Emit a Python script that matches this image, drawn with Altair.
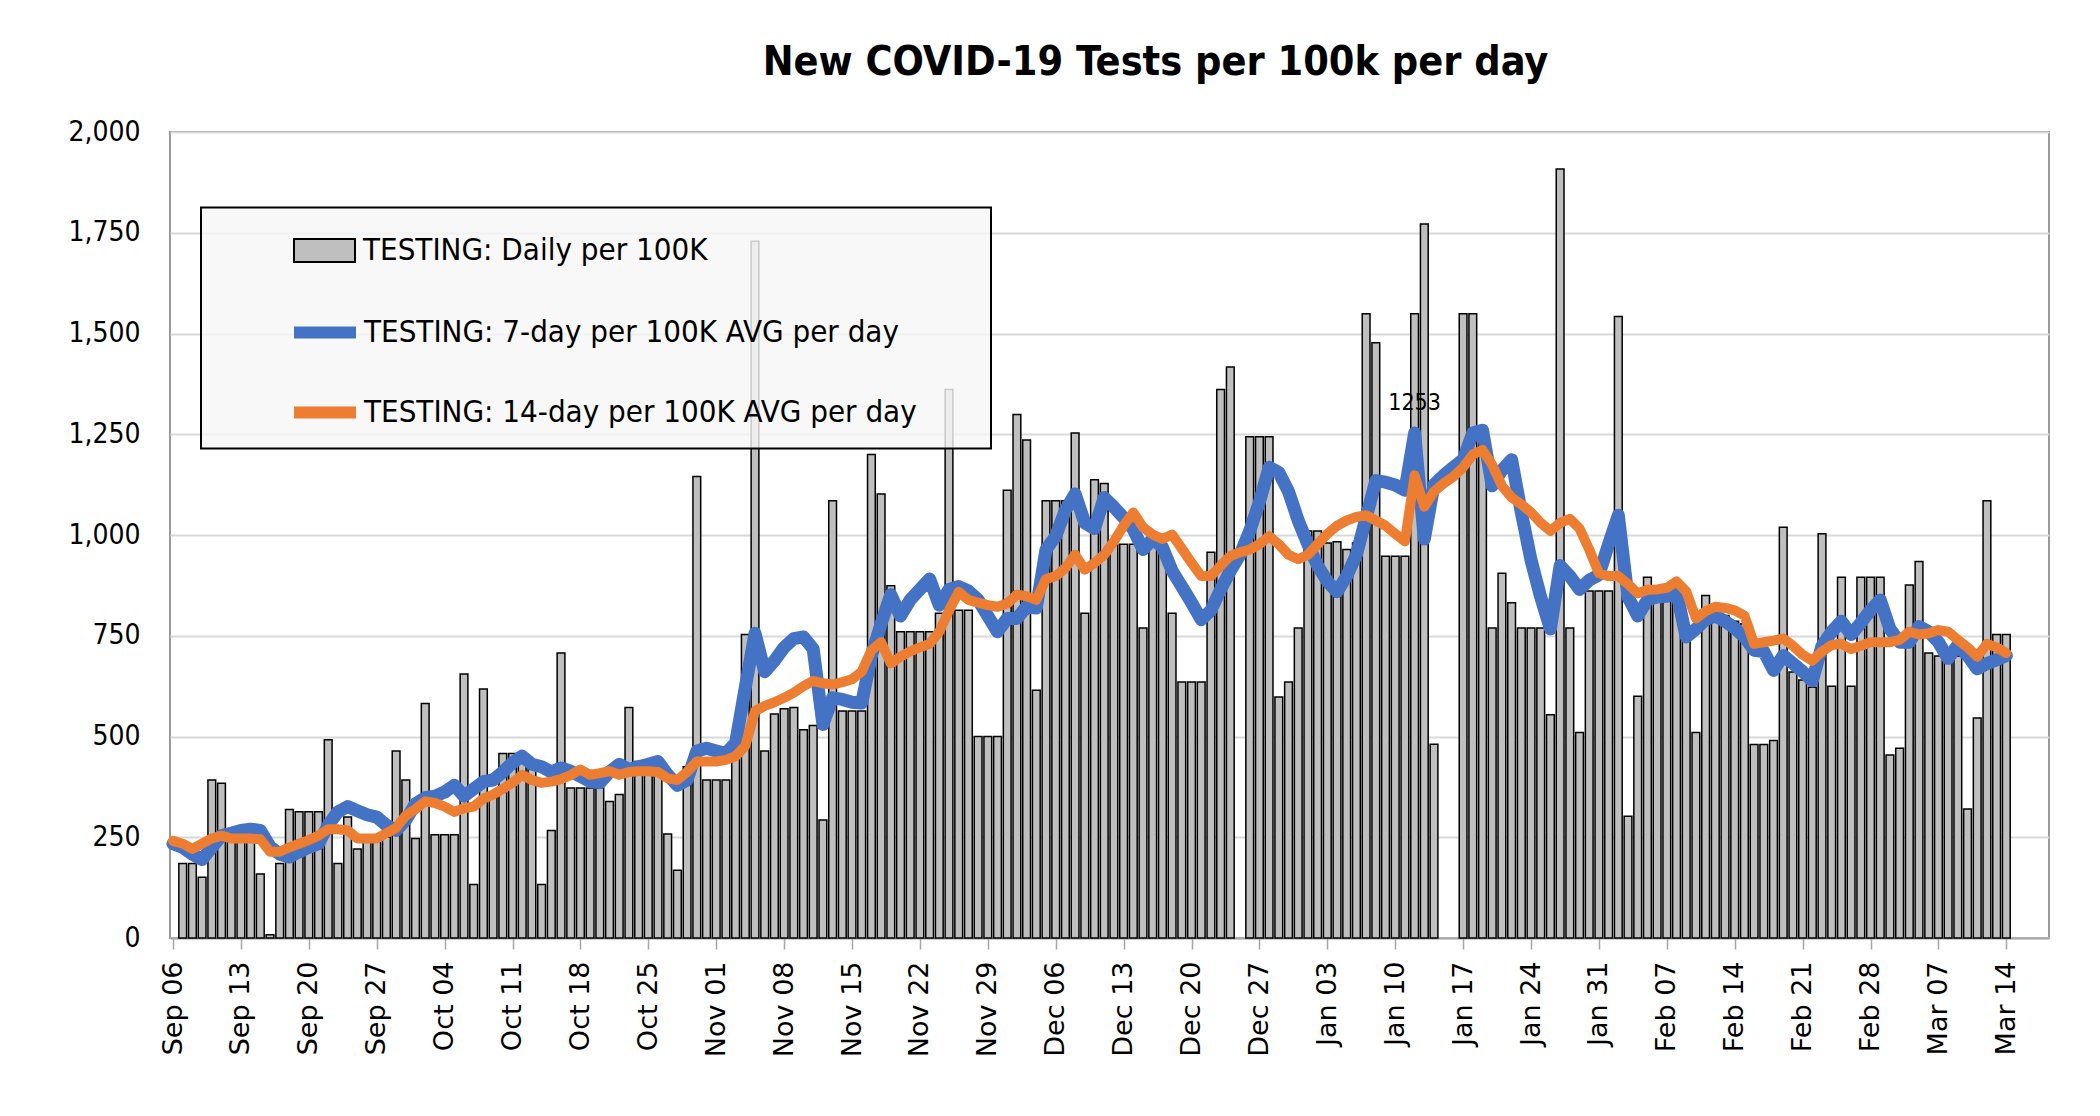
import altair as alt
import pandas as pd

# ---------------- data ----------------
tick_labels = ["Sep 06", "Sep 13", "Sep 20", "Sep 27", "Oct 04", "Oct 11", "Oct 18",
               "Oct 25", "Nov 01", "Nov 08", "Nov 15", "Nov 22", "Nov 29", "Dec 06",
               "Dec 13", "Dec 20", "Dec 27", "Jan 03", "Jan 10", "Jan 17", "Jan 24",
               "Jan 31", "Feb 07", "Feb 14", "Feb 21", "Feb 28", "Mar 07", "Mar 14"]

# daily tests per 100K, one value per day from Sep 06 (index 0) to Mar 14 (index 189)
daily = [None, 185, 185, 151, 392, 384, 245, 245, 245, 159,
         8, 185, 319, 313, 313, 313, 492, 185, 300, 221,
         240, 240, 250, 464, 392, 247, 582, 256, 256, 256,
         655, 133, 618, 350, 458, 458, 440, 420, 133, 267,
         707, 372, 372, 372, 372, 339, 356, 572, 438, 430,
         430, 258, 168, 425, 1145, 392, 392, 392, 464, 753,
         1729, 464, 556, 569, 572, 517, 527, 293, 1085, 563,
         563, 563, 1200, 1102, 874, 760, 760, 760, 760, 806,
         1361, 813, 813, 500, 500, 500, 1111, 1299, 1236, 615,
         1085, 1085, 1085, 1253, 806, 1137, 1128, 977, 977, 977,
         769, 977, 977, 806, 635, 635, 635, 957, 1361, 1417,
         None, 1244, 1244, 1244, 598, 635, 769, 1010, 1010, 980,
         983, 964, 980, 1549, 1477, 947, 947, 947, 1549, 1772,
         481, None, None, 1549, 1549, 1250, 769, 905, 832, 769,
         769, 769, 554, 1908, 769, 510, 861, 861, 861, 1542,
         302, 600, 895, 860, 860, 850, 767, 510, 850, 810,
         800, 786, 780, 480, 480, 490, 1019, 660, 640, 622,
         1003, 625, 895, 625, 895, 895, 895, 454, 471, 876,
         934, 707, 700, 700, 700, 320, 546, 1085, 753, 753]

avg7 = [234, 225, 208, 195, 225, 254, 260, 267, 270, 267,
        227, 208, 201, 214, 225, 234, 280, 313, 326, 316,
        306, 300, 280, 267, 293, 333, 348, 352, 362, 379,
        352, 370, 388, 392, 412, 435, 451, 431, 425, 412,
        422, 414, 401, 388, 385, 412, 431, 418, 425, 431,
        438, 405, 379, 392, 464, 471, 464, 458, 484, 622,
        756, 661, 688, 721, 743, 747, 717, 530, 596, 592,
        585, 583, 701, 780, 852, 799, 839, 865, 891, 826,
        865, 872, 861, 839, 799, 760, 793, 793, 822, 819,
        964, 997, 1062, 1102, 1030, 1016, 1093, 1069, 1043, 1014,
        964, 990, 970, 911, 872, 832, 790, 813, 865, 911,
        951, 1010, 1082, 1168, 1155, 1108, 1036, 977, 924, 885,
        859, 898, 951, 1043, 1135, 1131, 1124, 1111, 1253, 990,
        1125, 1148, 1168, 1187, 1253, 1260, 1122, 1161, 1187, 1056,
        938, 846, 767, 924, 898, 865, 888, 901, 977, 1049,
        846, 799, 839, 846, 848, 859, 747, 767, 790, 799,
        786, 769, 747, 714, 711, 664, 701, 681, 661, 638,
        725, 760, 786, 753, 782, 813, 839, 767, 734, 734,
        773, 760, 734, 694, 727, 701, 668, 681, 690, 701]

avg14 = [241, 234, 221, 234, 247, 254, 247, 247, 247, 245,
         214, 214, 225, 234, 243, 254, 270, 270, 267, 247,
         247, 247, 260, 273, 304, 320, 339, 335, 326, 313,
         322, 326, 346, 356, 370, 385, 405, 392, 385, 388,
         394, 404, 418, 405, 409, 414, 405, 412, 414, 414,
         412, 396, 392, 412, 438, 438, 438, 442, 451, 477,
         563, 576, 585, 596, 609, 625, 638, 632, 629, 635,
         642, 661, 714, 734, 681, 698, 711, 721, 730, 760,
         813, 859, 839, 832, 826, 822, 830, 852, 848, 839,
         891, 898, 918, 951, 914, 931, 951, 984, 1023, 1056,
         1019, 1001, 990, 1001, 966, 931, 898, 898, 924, 948,
         957, 964, 977, 997, 977, 951, 940, 951, 977, 1003,
         1023, 1036, 1045, 1049, 1036, 1023, 1003, 984, 1148, 1070,
         1108, 1128, 1145, 1168, 1200, 1211, 1174, 1122, 1093, 1076,
         1056, 1030, 1010, 1030, 1040, 1016, 964, 905, 898, 898,
         878, 855, 864, 865, 869, 885, 860, 793, 811, 822,
         819, 813, 800, 730, 734, 738, 743, 725, 703, 688,
         711, 727, 730, 717, 725, 734, 734, 734, 740, 760,
         753, 756, 764, 760, 740, 721, 698, 730, 721, 707]

LBL_DAILY = "TESTING: Daily per 100K"
LBL_7 = "TESTING: 7-day per 100K AVG per day"
LBL_14 = "TESTING: 14-day per 100K AVG per day"
TITLE = "New COVID-19 Tests per 100k per day"

annot_day = 128  # the labelled 7-day value

# ---------------- tables ----------------
days = list(range(len(avg7)))
bars_df = pd.DataFrame({"day": days, "value": daily}).dropna()
bars_df["kind"] = LBL_DAILY
lines_df = pd.concat([
    pd.DataFrame({"day": days, "value": avg7, "kind": LBL_7}),
    pd.DataFrame({"day": days, "value": avg14, "kind": LBL_14}),
])
annot_df = pd.DataFrame({"day": [annot_day], "value": [avg7[annot_day]],
                         "label": [str(avg7[annot_day])]})

COND = "DejaVu Sans Condensed"
label_expr = "[" + ",".join("'%s'" % t for t in tick_labels) + "][round(datum.value / 7)]"

x_scale = alt.Scale(domain=[-0.31, 193.4], nice=False, zero=False)
y_scale = alt.Scale(domain=[0, 2000], nice=False)

x_axis = alt.Axis(values=list(range(0, len(days), 7)), labelExpr=label_expr, title=None,
                  labelAngle=270, labelFont="DejaVu Sans", labelFontSize=27, labelColor="black",
                  labelPadding=12, tickSize=11, tickColor="#a6a6a6", tickWidth=1.5,
                  domainColor="#a6a6a6", domainWidth=2, grid=False, labelOverlap=False,
                  labelBound=False, labelFlush=False)
y_axis = alt.Axis(values=list(range(0, 2001, 250)), format=",.0f", title=None,
                  labelFont=COND, labelFontSize=28, labelColor="black", labelPadding=30,
                  ticks=False, domain=False, grid=True, gridColor="#d9d9d9", gridWidth=2)

X = alt.X("day:Q", scale=x_scale, axis=x_axis)
Y = alt.Y("value:Q", scale=y_scale, axis=y_axis)

bar_legend = alt.Legend(title=None, orient="none", legendX=123, legendY=87, padding=0,
                        symbolType="M-1,-0.38H1V0.38H-1Z", symbolSize=3721,
                        symbolStrokeColor="black", symbolStrokeWidth=2,
                        labelFont=COND, labelFontSize=31, labelColor="black",
                        labelOffset=7, labelLimit=900, zindex=2)

line_legend = alt.Legend(title=" ", titleFontSize=10, titlePadding=66,
                         orient="none", legendX=31, legendY=75.5, padding=12,
                         symbolType="stroke", symbolSize=3844, symbolStrokeWidth=12,
                         symbolOffset=75, labelOffset=2, rowPadding=19,
                         labelFont=COND, labelFontSize=31, labelColor="black", labelLimit=900,
                         labelExpr="datum.label + '\u2800\u2800\u2800'",
                         fillColor="rgba(246,246,246,0.82)", strokeColor="black", zindex=1)

bars = alt.Chart(bars_df).transform_calculate(
    x0="datum.day - 0.4", x1="datum.day + 0.4"
).mark_bar(stroke="black", strokeWidth=1.5).encode(
    x=alt.X("x0:Q", scale=x_scale, axis=x_axis),
    x2="x1:Q",
    y=Y,
    y2=alt.datum(0),
    fill=alt.Fill("kind:N", scale=alt.Scale(domain=[LBL_DAILY], range=["#bfbfbf"]),
                  legend=bar_legend),
)

stroke_enc = alt.Stroke("kind:N", scale=alt.Scale(domain=[LBL_7, LBL_14],
                                                   range=["#4472c4", "#ed7d31"]),
                        legend=line_legend)

blue = alt.Chart(lines_df).transform_filter(
    alt.datum.kind == LBL_7
).mark_line(strokeWidth=13, strokeCap="round", strokeJoin="round").encode(
    x=X, y=Y, stroke=stroke_enc, order="day:Q")

orange = alt.Chart(lines_df).transform_filter(
    alt.datum.kind == LBL_14
).mark_line(strokeWidth=10, strokeCap="round", strokeJoin="round").encode(
    x=X, y=Y, stroke=stroke_enc, order="day:Q")

annot = alt.Chart(annot_df).mark_text(dy=-30, fontSize=23, font=COND, color="black").encode(
    x=X, y=Y, text="label:N")

chart = alt.layer(bars, blue, orange, annot).properties(
    width=1879, height=806,
    autosize=alt.AutoSizeParams(type="none"),
    padding={"left": 162, "top": 124, "right": 40, "bottom": 150},
    title=alt.TitleParams(TITLE, font=COND, fontWeight="bold",
                          fontSize=41, color="black", anchor="middle", frame="group",
                          dx=46, dy=53, offset=55, baseline="alphabetic"),
).configure_view(
    stroke="#9a9a9a", strokeWidth=2
).configure_legend(
    strokeWidth=2
)

chart.save("out.html", embed_options={"renderer": "svg", "actions": False})
